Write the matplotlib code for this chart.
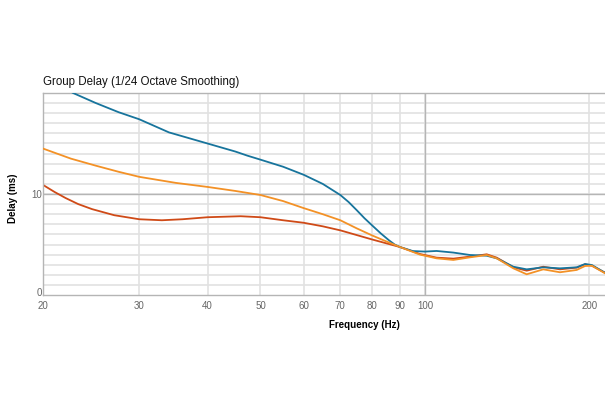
import numpy as np
from matplotlib import pyplot as plt
from matplotlib.ticker import FixedLocator, NullFormatter
from matplotlib.transforms import ScaledTranslation

plt.rcParams['font.family'] = ['Liberation Sans', 'DejaVu Sans']

# frequencies (Hz) and group delay (ms)
blue_freq = [20, 22.7, 25, 27.5, 30, 34, 40, 45, 47.3, 50, 55, 60, 65, 70, 72.5, 75, 77.5, 80, 83, 86, 88, 90, 95, 100,
             105, 112.7, 120.9, 129.7, 135.3, 145.1, 153.5, 164.6, 176.6, 189.5, 196.3, 202, 213.5]
blue_delay = [21.8, 20.0, 19.0, 18.1, 17.4, 16.1, 15.0, 14.2, 13.8, 13.4, 12.7, 11.9, 11.0, 9.9, 9.2, 8.4, 7.6, 6.9, 6.1, 5.4, 5.0, 4.75, 4.35, 4.3,
              4.36, 4.2, 3.96, 3.89, 3.63, 2.8, 2.54, 2.74, 2.64, 2.74, 3.07, 2.97, 2.2]

orange_freq = [20, 22.5, 25, 27.5, 30, 35, 40, 45, 50, 55, 60, 65, 70, 75, 80, 85, 90, 97.9,
               105, 112.7, 120.9, 129.7, 135.3, 145.1, 153.5, 164.6, 176.6, 189.5, 196.3, 202, 213.5]
orange_delay = [14.5, 13.5, 12.8, 12.2, 11.7, 11.1, 10.7, 10.3, 9.9, 9.3, 8.6, 8.0, 7.4, 6.6, 5.9, 5.3, 4.75, 4.0,
                3.63, 3.47, 3.73, 3.96, 3.63, 2.64, 2.05, 2.54, 2.25, 2.48, 2.87, 2.9, 2.15]

red_freq = [20, 21, 22, 23.2, 24.6, 27, 30, 33, 36, 40, 46, 50, 55, 60, 65, 70, 80, 90, 97.9,
            105, 112.7, 120.9, 129.7, 135.3, 145.1, 153.5, 164.6, 176.6, 189.5, 196.3, 202, 213.5]
red_delay = [10.9, 10.2, 9.6, 9.0, 8.5, 7.9, 7.5, 7.4, 7.5, 7.7, 7.8, 7.7, 7.4, 7.15, 6.8, 6.4, 5.5, 4.75, 4.06,
             3.7, 3.6, 3.8, 4.03, 3.7, 2.74, 2.41, 2.8, 2.54, 2.71, 3.04, 2.9, 2.21]

x_ticks = [20, 30, 40, 50, 60, 70, 80, 90, 100, 200]
x_tick_labels = ['20', '30', '40', '50', '60', '70', '80', '90', '100', '200']
y_ticks = [0, 10]


fig = plt.figure(figsize=(6.05, 4.03), dpi=100)
ax = fig.add_axes([43 / 605, 108 / 403, 562 / 605, 202 / 403])

ax.set_xscale('log')
ax.set_xlim(20, 213.5)
ax.set_ylim(0, 20)

# grid: light lines every 1 ms and at each labelled frequency, darker at 10 ms and 100 Hz
for v in range(1, 20):
    ax.axhline(v, color='#e2e2e2', lw=1.2, zorder=0)
for f in x_ticks:
    ax.axvline(f, color='#e2e2e2', lw=1.2, zorder=0)
ax.axhline(10, color='#b5b5b5', lw=1.0, zorder=0.5)
ax.axvline(100, color='#b5b5b5', lw=1.0, zorder=0.5)

ax.plot(blue_freq, blue_delay, color='#17749c', lw=1.3, zorder=3)
ax.plot(orange_freq, orange_delay, color='#f39126', lw=1.3, zorder=4)
ax.plot(red_freq, red_delay, color='#cf4a17', lw=1.3, zorder=2)

ax.xaxis.set_major_locator(FixedLocator(x_ticks))
ax.xaxis.set_minor_locator(FixedLocator([]))
ax.xaxis.set_minor_formatter(NullFormatter())
ax.set_xticklabels(x_tick_labels)
ax.set_yticks(y_ticks)
ax.tick_params(axis='both', length=0, labelsize=7, colors='#666666')
ax.tick_params(axis='x', pad=4)
ax.tick_params(axis='y', pad=1)

# lift the "0" a little so it sits just above the "20"
zero_label = ax.get_yticklabels()[0]
zero_label.set_transform(zero_label.get_transform() + ScaledTranslation(0, 2.5 / 72, fig.dpi_scale_trans))

for side in ['left', 'bottom', 'top']:
    ax.spines[side].set_color('#b5b5b5')
    ax.spines[side].set_linewidth(1.0)
ax.spines['right'].set_visible(False)

fig.text(43 / 605, 1 - 82 / 403, 'Group Delay (1/24 Octave Smoothing)', fontsize=8.3,
         va='center', ha='left', color='#111111')
fig.text(364 / 605, 1 - 325 / 403, 'Frequency (Hz)', fontsize=7, fontweight='bold',
         va='center', ha='center')
fig.text(13 / 605, 1 - 198 / 403, 'Delay (ms)', fontsize=7, fontweight='bold',
         va='center', ha='center', rotation=90)

plt.savefig('out.png', dpi=100)
